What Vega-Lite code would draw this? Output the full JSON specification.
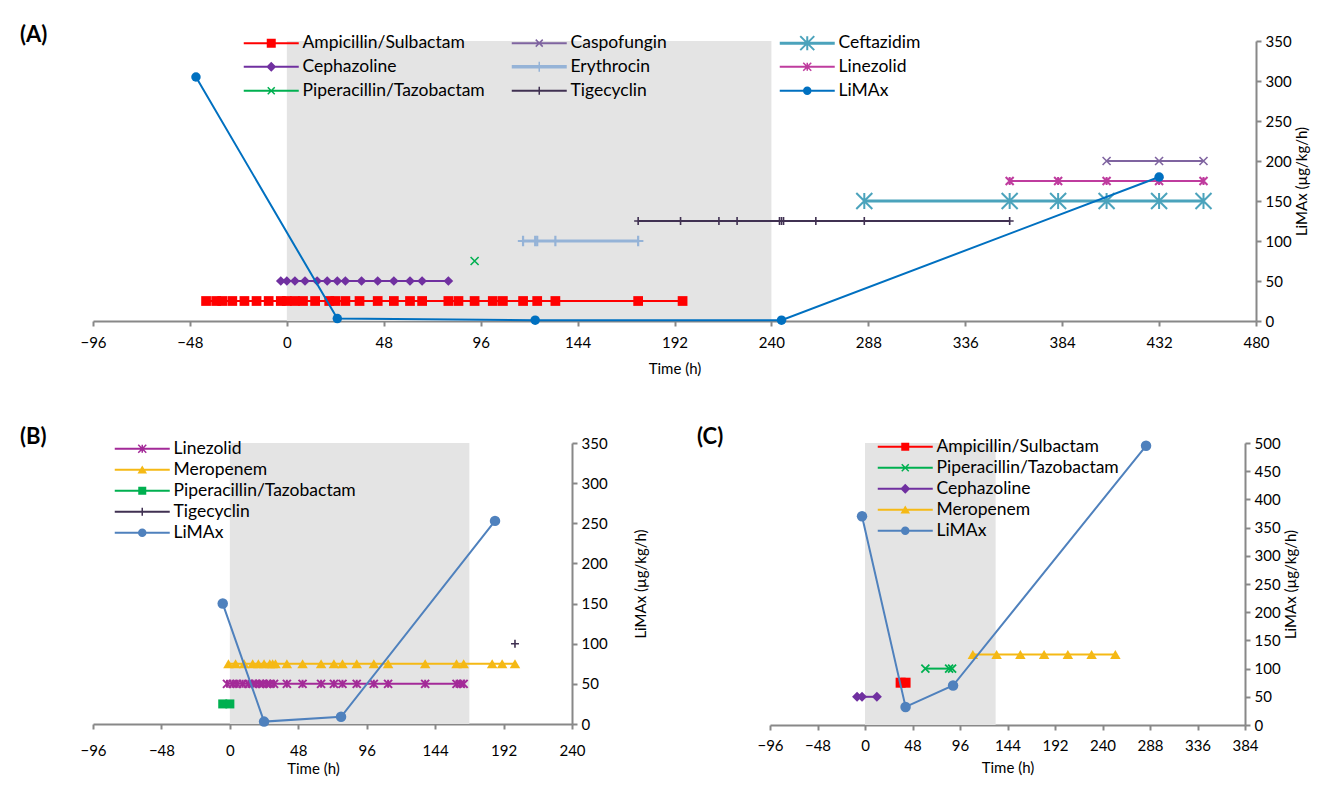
{
  "$schema": "https://vega.github.io/schema/vega-lite/v6.json",
  "padding": {"left": 20, "top": 24, "right": 5, "bottom": 5},
  "background": "white",
  "bounds": "flush",
  "spacing": 122,
  "resolve": {"scale": {"color": "independent", "shape": "independent"}, "legend": {"color": "independent", "shape": "independent"}},
  "config": {
    "font": "Lato",
    "view": {"stroke": null},
    "axis": {"grid": false, "domainColor": "#888888", "domainWidth": 2, "tickColor": "#888888", "tickWidth": 2, "tickSize": 5, "labelFont": "Lato", "labelFontSize": 15, "labelColor": "#000000", "titleFont": "Lato", "titleFontSize": 15, "titleFontWeight": "normal", "titleColor": "#000000", "labelFlush": false, "labelOverlap": false, "tickCount": 30},
    "axisX": {"labelPadding": 9, "titlePadding": 11},
    "axisY": {"labelPadding": 4, "titlePadding": 3, "titleAngle": 270, "titleBaseline": "top"},
    "legend": {"labelFont": "Lato", "labelFontSize": 17.5, "labelColor": "#000000", "symbolSize": 100, "labelOffset": 45, "symbolStrokeWidth": 0, "labelLimit": 400, "padding": 0},
    "title": {"anchor": "start", "frame": "group", "dx": -73, "dy": 17, "offset": 0, "baseline": "alphabetic", "fontSize": 22, "fontWeight": "bold", "font": "Lato", "color": "#000000"}
  },
  "datasets": {
    "A": [
      {"drug": "Ampicillin/Sulbactam", "t": -40, "v": 25},
      {"drug": "Ampicillin/Sulbactam", "t": -35, "v": 25},
      {"drug": "Ampicillin/Sulbactam", "t": -32, "v": 25},
      {"drug": "Ampicillin/Sulbactam", "t": -27, "v": 25},
      {"drug": "Ampicillin/Sulbactam", "t": -21, "v": 25},
      {"drug": "Ampicillin/Sulbactam", "t": -15, "v": 25},
      {"drug": "Ampicillin/Sulbactam", "t": -9, "v": 25},
      {"drug": "Ampicillin/Sulbactam", "t": -3, "v": 25},
      {"drug": "Ampicillin/Sulbactam", "t": 0, "v": 25},
      {"drug": "Ampicillin/Sulbactam", "t": 4, "v": 25},
      {"drug": "Ampicillin/Sulbactam", "t": 8, "v": 25},
      {"drug": "Ampicillin/Sulbactam", "t": 14, "v": 25},
      {"drug": "Ampicillin/Sulbactam", "t": 21, "v": 25},
      {"drug": "Ampicillin/Sulbactam", "t": 24, "v": 25},
      {"drug": "Ampicillin/Sulbactam", "t": 29, "v": 25},
      {"drug": "Ampicillin/Sulbactam", "t": 36, "v": 25},
      {"drug": "Ampicillin/Sulbactam", "t": 45, "v": 25},
      {"drug": "Ampicillin/Sulbactam", "t": 53, "v": 25},
      {"drug": "Ampicillin/Sulbactam", "t": 61, "v": 25},
      {"drug": "Ampicillin/Sulbactam", "t": 67, "v": 25},
      {"drug": "Ampicillin/Sulbactam", "t": 80, "v": 25},
      {"drug": "Ampicillin/Sulbactam", "t": 85, "v": 25},
      {"drug": "Ampicillin/Sulbactam", "t": 93, "v": 25},
      {"drug": "Ampicillin/Sulbactam", "t": 102, "v": 25},
      {"drug": "Ampicillin/Sulbactam", "t": 107, "v": 25},
      {"drug": "Ampicillin/Sulbactam", "t": 117, "v": 25},
      {"drug": "Ampicillin/Sulbactam", "t": 124, "v": 25},
      {"drug": "Ampicillin/Sulbactam", "t": 133, "v": 25},
      {"drug": "Ampicillin/Sulbactam", "t": 174, "v": 25},
      {"drug": "Ampicillin/Sulbactam", "t": 196, "v": 25},
      {"drug": "Cephazoline", "t": -3, "v": 50},
      {"drug": "Cephazoline", "t": 0, "v": 50},
      {"drug": "Cephazoline", "t": 4, "v": 50},
      {"drug": "Cephazoline", "t": 9, "v": 50},
      {"drug": "Cephazoline", "t": 15, "v": 50},
      {"drug": "Cephazoline", "t": 20, "v": 50},
      {"drug": "Cephazoline", "t": 25, "v": 50},
      {"drug": "Cephazoline", "t": 29, "v": 50},
      {"drug": "Cephazoline", "t": 37, "v": 50},
      {"drug": "Cephazoline", "t": 45, "v": 50},
      {"drug": "Cephazoline", "t": 53, "v": 50},
      {"drug": "Cephazoline", "t": 61, "v": 50},
      {"drug": "Cephazoline", "t": 67, "v": 50},
      {"drug": "Cephazoline", "t": 80, "v": 50},
      {"drug": "Piperacillin/Tazobactam", "t": 93, "v": 75},
      {"drug": "Erythrocin", "t": 117, "v": 100},
      {"drug": "Erythrocin", "t": 123, "v": 100},
      {"drug": "Erythrocin", "t": 124, "v": 100},
      {"drug": "Erythrocin", "t": 133, "v": 100},
      {"drug": "Erythrocin", "t": 174, "v": 100},
      {"drug": "Tigecyclin", "t": 174, "v": 125},
      {"drug": "Tigecyclin", "t": 195, "v": 125},
      {"drug": "Tigecyclin", "t": 214, "v": 125},
      {"drug": "Tigecyclin", "t": 223, "v": 125},
      {"drug": "Tigecyclin", "t": 244, "v": 125},
      {"drug": "Tigecyclin", "t": 245, "v": 125},
      {"drug": "Tigecyclin", "t": 246, "v": 125},
      {"drug": "Tigecyclin", "t": 262, "v": 125},
      {"drug": "Tigecyclin", "t": 286, "v": 125},
      {"drug": "Tigecyclin", "t": 358, "v": 125},
      {"drug": "Ceftazidim", "t": 286, "v": 150},
      {"drug": "Ceftazidim", "t": 358, "v": 150},
      {"drug": "Ceftazidim", "t": 382, "v": 150},
      {"drug": "Ceftazidim", "t": 406, "v": 150},
      {"drug": "Ceftazidim", "t": 432, "v": 150},
      {"drug": "Ceftazidim", "t": 454, "v": 150},
      {"drug": "Linezolid", "t": 358, "v": 175},
      {"drug": "Linezolid", "t": 382, "v": 175},
      {"drug": "Linezolid", "t": 406, "v": 175},
      {"drug": "Linezolid", "t": 432, "v": 175},
      {"drug": "Linezolid", "t": 454, "v": 175},
      {"drug": "Caspofungin", "t": 406, "v": 200},
      {"drug": "Caspofungin", "t": 432, "v": 200},
      {"drug": "Caspofungin", "t": 454, "v": 200},
      {"drug": "LiMAx", "t": -45, "v": 305},
      {"drug": "LiMAx", "t": 25, "v": 3},
      {"drug": "LiMAx", "t": 123, "v": 1},
      {"drug": "LiMAx", "t": 245, "v": 1},
      {"drug": "LiMAx", "t": 432, "v": 180}
    ],
    "B": [
      {"drug": "Linezolid", "t": -2, "v": 50},
      {"drug": "Linezolid", "t": 2, "v": 50},
      {"drug": "Linezolid", "t": 5, "v": 50},
      {"drug": "Linezolid", "t": 9, "v": 50},
      {"drug": "Linezolid", "t": 13, "v": 50},
      {"drug": "Linezolid", "t": 16, "v": 50},
      {"drug": "Linezolid", "t": 18, "v": 50},
      {"drug": "Linezolid", "t": 21, "v": 50},
      {"drug": "Linezolid", "t": 23, "v": 50},
      {"drug": "Linezolid", "t": 26, "v": 50},
      {"drug": "Linezolid", "t": 28, "v": 50},
      {"drug": "Linezolid", "t": 31, "v": 50},
      {"drug": "Linezolid", "t": 40, "v": 50},
      {"drug": "Linezolid", "t": 51, "v": 50},
      {"drug": "Linezolid", "t": 64, "v": 50},
      {"drug": "Linezolid", "t": 73, "v": 50},
      {"drug": "Linezolid", "t": 79, "v": 50},
      {"drug": "Linezolid", "t": 89, "v": 50},
      {"drug": "Linezolid", "t": 101, "v": 50},
      {"drug": "Linezolid", "t": 111, "v": 50},
      {"drug": "Linezolid", "t": 137, "v": 50},
      {"drug": "Linezolid", "t": 159, "v": 50},
      {"drug": "Linezolid", "t": 162, "v": 50},
      {"drug": "Linezolid", "t": 164, "v": 50},
      {"drug": "Meropenem", "t": -1, "v": 75},
      {"drug": "Meropenem", "t": 4, "v": 75},
      {"drug": "Meropenem", "t": 10, "v": 75},
      {"drug": "Meropenem", "t": 16, "v": 75},
      {"drug": "Meropenem", "t": 20, "v": 75},
      {"drug": "Meropenem", "t": 24, "v": 75},
      {"drug": "Meropenem", "t": 28, "v": 75},
      {"drug": "Meropenem", "t": 30, "v": 75},
      {"drug": "Meropenem", "t": 32, "v": 75},
      {"drug": "Meropenem", "t": 40, "v": 75},
      {"drug": "Meropenem", "t": 51, "v": 75},
      {"drug": "Meropenem", "t": 64, "v": 75},
      {"drug": "Meropenem", "t": 73, "v": 75},
      {"drug": "Meropenem", "t": 79, "v": 75},
      {"drug": "Meropenem", "t": 89, "v": 75},
      {"drug": "Meropenem", "t": 101, "v": 75},
      {"drug": "Meropenem", "t": 111, "v": 75},
      {"drug": "Meropenem", "t": 137, "v": 75},
      {"drug": "Meropenem", "t": 159, "v": 75},
      {"drug": "Meropenem", "t": 164, "v": 75},
      {"drug": "Meropenem", "t": 184, "v": 75},
      {"drug": "Meropenem", "t": 191, "v": 75},
      {"drug": "Meropenem", "t": 200, "v": 75},
      {"drug": "Piperacillin/Tazobactam", "t": -5, "v": 25},
      {"drug": "Piperacillin/Tazobactam", "t": 0, "v": 25},
      {"drug": "Tigecyclin", "t": 200, "v": 100},
      {"drug": "LiMAx", "t": -5, "v": 150},
      {"drug": "LiMAx", "t": 24, "v": 3},
      {"drug": "LiMAx", "t": 78, "v": 9},
      {"drug": "LiMAx", "t": 186, "v": 253}
    ],
    "C": [
      {"drug": "Cephazoline", "t": -8, "v": 50},
      {"drug": "Cephazoline", "t": -3, "v": 50},
      {"drug": "Cephazoline", "t": 12, "v": 50},
      {"drug": "Ampicillin/Sulbactam", "t": 36, "v": 75},
      {"drug": "Ampicillin/Sulbactam", "t": 41, "v": 75},
      {"drug": "Piperacillin/Tazobactam", "t": 61, "v": 100},
      {"drug": "Piperacillin/Tazobactam", "t": 85, "v": 100},
      {"drug": "Piperacillin/Tazobactam", "t": 88, "v": 100},
      {"drug": "Meropenem", "t": 109, "v": 125},
      {"drug": "Meropenem", "t": 133, "v": 125},
      {"drug": "Meropenem", "t": 157, "v": 125},
      {"drug": "Meropenem", "t": 181, "v": 125},
      {"drug": "Meropenem", "t": 205, "v": 125},
      {"drug": "Meropenem", "t": 229, "v": 125},
      {"drug": "Meropenem", "t": 253, "v": 125},
      {"drug": "LiMAx", "t": -3, "v": 370},
      {"drug": "LiMAx", "t": 41, "v": 32},
      {"drug": "LiMAx", "t": 89, "v": 70},
      {"drug": "LiMAx", "t": 284, "v": 495}
    ],
    "shadeA": [{"t": 0, "t2": 240}],
    "shadeB": [{"t": 0, "t2": 168}],
    "shadeC": [{"t": 0, "t2": 132}]
  },
  "vconcat": [
    {
      "width": 1163,
      "height": 280,
      "title": {"text": "(A)"},
      "data": {"name": "A"},
      "encoding": {
        "x": {"field": "t", "type": "quantitative", "scale": {"domain": [-96, 480], "nice": false, "zero": false}, "axis": {"values": [-96, -48, 0, 48, 96, 144, 192, 240, 288, 336, 384, 432, 480], "title": "Time (h)", "labelOverlap": false, "tickCount": 30}},
        "color": {"field": "drug", "type": "nominal", "scale": {"domain": ["Ampicillin/Sulbactam", "Cephazoline", "Piperacillin/Tazobactam", "Caspofungin", "Erythrocin", "Tigecyclin", "Ceftazidim", "Linezolid", "LiMAx"], "range": ["#FF0000", "#7030A0", "#00B050", "#7F64A0", "#95B3D7", "#403152", "#4BA3BC", "#BF3C9E", "#0070C0"]}, "legend": null}
      },
      "layer": [
        {
          "transform": [{"filter": "false"}],
          "mark": {"type": "point", "filled": true, "opacity": 1, "size": 100},
          "encoding": {
            "y": {"field": "v", "type": "quantitative", "scale": {"domain": [0, 350], "nice": false}, "axis": {"orient": "right", "values": [0, 50, 100, 150, 200, 250, 300, 350], "tickCount": 20, "title": "LiMAx (µg/kg/h)", "titlePadding": 3, "labelOverlap": false}},
            "color": {"field": "drug", "type": "nominal", "scale": {"domain": ["Ampicillin/Sulbactam", "Cephazoline", "Piperacillin/Tazobactam", "Caspofungin", "Erythrocin", "Tigecyclin", "Ceftazidim", "Linezolid", "LiMAx"], "range": ["#FF0000", "#7030A0", "#00B050", "#7F64A0", "#95B3D7", "#403152", "#4BA3BC", "#BF3C9E", "#0070C0"]}, "legend": {"title": null, "orient": "none", "legendX": 147, "legendY": -7, "direction": "vertical", "columns": 3, "columnPadding": 23, "rowPadding": 5, "gridAlign": "all"}},
            "shape": {"field": "drug", "type": "nominal", "scale": {"domain": ["Ampicillin/Sulbactam", "Cephazoline", "Piperacillin/Tazobactam", "Caspofungin", "Erythrocin", "Tigecyclin", "Ceftazidim", "Linezolid", "LiMAx"], "range": [
              "M-1,-0.2H10V0.2H-1ZM3.6,-0.9H5.4V0.9H3.6Z",
              "M-1,-0.2H10V0.2H-1ZM4.5,-1L5.5,0L4.5,1L3.5,0Z",
              "M-1,-0.2H10V0.2H-1ZM3.906,-0.806L5.306,0.594L5.094,0.806L3.694,-0.594ZM3.694,0.594L5.094,-0.806L5.306,-0.594L3.906,0.806Z",
              "M-1,-0.2H10V0.2H-1ZM3.906,-0.806L5.306,0.594L5.094,0.806L3.694,-0.594ZM3.694,0.594L5.094,-0.806L5.306,-0.594L3.906,0.806Z",
              "M-1,-0.35H10V0.35H-1ZM4.35,-1H4.65V1H4.35Z",
              "M-1,-0.2H10V0.2H-1ZM4.35,-0.8H4.65V0.8H4.35Z",
              "M-1,-0.3H10V0.3H-1ZM3.241,-1.541L6.041,1.259L5.759,1.541L2.959,-1.259ZM2.959,1.259L5.759,-1.541L6.041,-1.259L3.241,1.541ZM4.3,-1.4H4.7V1.4H4.3Z",
              "M-1,-0.2H10V0.2H-1ZM3.806,-0.906L5.406,0.694L5.194,0.906L3.594,-0.694ZM3.594,0.694L5.194,-0.906L5.406,-0.694L3.806,0.906ZM4.35,-0.8H4.65V0.8H4.35Z",
              "M-1,-0.2H10V0.2H-1ZM3.65,0A0.85,0.85 0 1 1 5.35,0A0.85,0.85 0 1 1 3.65,0Z"
            ]}, "legend": {"title": null, "orient": "none", "legendX": 147, "legendY": -7, "direction": "vertical", "columns": 3, "columnPadding": 23, "rowPadding": 5, "gridAlign": "all"}}
          }
        },
        {
          "data": {"name": "shadeA"},
          "mark": {"type": "rect"},
          "encoding": {"x2": {"field": "t2"}, "color": {"value": "#E4E4E4"}}
        },
        {
          "transform": [{"filter": {"field": "drug", "oneOf": ["Ampicillin/Sulbactam", "Caspofungin", "Cephazoline", "Linezolid", "Piperacillin/Tazobactam", "Tigecyclin"]}}],
          "mark": {"type": "line", "strokeWidth": 1.8},
          "encoding": {"y": {"field": "v", "type": "quantitative"}}
        },
        {
          "transform": [{"filter": {"field": "drug", "oneOf": ["Ceftazidim", "Erythrocin"]}}],
          "mark": {"type": "line", "strokeWidth": 3.2},
          "encoding": {"y": {"field": "v", "type": "quantitative"}}
        },
        {
          "transform": [{"filter": {"field": "drug", "equal": "Ampicillin/Sulbactam"}}],
          "mark": {"type": "point", "shape": "square", "filled": true, "opacity": 1, "size": 95},
          "encoding": {"y": {"field": "v", "type": "quantitative"}}
        },
        {
          "transform": [{"filter": {"field": "drug", "equal": "Cephazoline"}}],
          "mark": {"type": "point", "shape": "diamond", "filled": true, "opacity": 1, "size": 95},
          "encoding": {"y": {"field": "v", "type": "quantitative"}}
        },
        {
          "transform": [{"filter": {"field": "drug", "oneOf": ["Piperacillin/Tazobactam", "Caspofungin"]}}],
          "mark": {"type": "point", "shape": "M-1,-1L1,1M-1,1L1,-1", "filled": false, "opacity": 1, "size": 64, "strokeWidth": 1.6},
          "encoding": {"y": {"field": "v", "type": "quantitative"}}
        },
        {
          "transform": [{"filter": {"field": "drug", "equal": "Tigecyclin"}}],
          "mark": {"type": "point", "shape": "M-1,0H1M0,-1V1", "filled": false, "opacity": 1, "size": 64, "strokeWidth": 1.6},
          "encoding": {"y": {"field": "v", "type": "quantitative"}}
        },
        {
          "transform": [{"filter": {"field": "drug", "equal": "Erythrocin"}}],
          "mark": {"type": "point", "shape": "M-1,0H1M0,-1V1", "filled": false, "opacity": 1, "size": 110, "strokeWidth": 2.2},
          "encoding": {"y": {"field": "v", "type": "quantitative"}}
        },
        {
          "transform": [{"filter": {"field": "drug", "equal": "Linezolid"}}],
          "mark": {"type": "point", "shape": "M-1,-1L1,1M-1,1L1,-1M0,-1V1", "filled": false, "opacity": 1, "size": 64, "strokeWidth": 2},
          "encoding": {"y": {"field": "v", "type": "quantitative"}}
        },
        {
          "transform": [{"filter": {"field": "drug", "equal": "Ceftazidim"}}],
          "mark": {"type": "point", "shape": "M-1,-1L1,1M-1,1L1,-1M0,-1V1", "filled": false, "opacity": 1, "size": 256, "strokeWidth": 2},
          "encoding": {"y": {"field": "v", "type": "quantitative"}}
        },
        {
          "transform": [{"filter": {"field": "drug", "equal": "LiMAx"}}],
          "mark": {"type": "line", "strokeWidth": 2},
          "encoding": {"y": {"field": "v", "type": "quantitative"}}
        },
        {
          "transform": [{"filter": {"field": "drug", "equal": "LiMAx"}}],
          "mark": {"type": "point", "shape": "circle", "filled": true, "opacity": 1, "size": 90},
          "encoding": {"y": {"field": "v", "type": "quantitative"}}
        }
      ]
    },
    {
      "hconcat": [
        {
          "width": 479,
          "height": 281,
          "title": {"text": "(B)"},
          "data": {"name": "B"},
          "encoding": {
            "x": {"field": "t", "type": "quantitative", "scale": {"domain": [-96, 240], "nice": false, "zero": false}, "axis": {"values": [-96, -48, 0, 48, 96, 144, 192, 240], "tickCount": 30, "title": "Time (h)", "titleX": 220, "labelPadding": 14, "titlePadding": 3, "labelOverlap": false}},
            "color": {"field": "drug", "type": "nominal", "scale": {"domain": ["Linezolid", "Meropenem", "Piperacillin/Tazobactam", "Tigecyclin", "LiMAx"], "range": ["#A32A98", "#F5B915", "#00B050", "#403152", "#4F81BD"]}, "legend": null}
          },
          "layer": [
            {
              "transform": [{"filter": "false"}],
              "mark": {"type": "point", "filled": true, "opacity": 1, "size": 100},
              "encoding": {
                "y": {"field": "v", "type": "quantitative", "scale": {"domain": [0, 350], "nice": false}, "axis": {"orient": "right", "values": [0, 50, 100, 150, 200, 250, 300, 350], "tickCount": 20, "title": "LiMAx (µg/kg/h)", "titlePadding": 26, "labelOverlap": false}},
                "color": {"field": "drug", "type": "nominal", "scale": {"domain": ["Linezolid", "Meropenem", "Piperacillin/Tazobactam", "Tigecyclin", "LiMAx"], "range": ["#A32A98", "#F5B915", "#00B050", "#403152", "#4F81BD"]}, "legend": {"title": null, "orient": "none", "legendX": 18, "legendY": -3, "direction": "vertical", "columns": 1, "rowPadding": 2}},
                "shape": {"field": "drug", "type": "nominal", "scale": {"domain": ["Linezolid", "Meropenem", "Piperacillin/Tazobactam", "Tigecyclin", "LiMAx"], "range": [
                  "M-1,-0.2H10V0.2H-1ZM3.806,-0.906L5.406,0.694L5.194,0.906L3.594,-0.694ZM3.594,0.694L5.194,-0.906L5.406,-0.694L3.806,0.906ZM4.35,-0.8H4.65V0.8H4.35Z",
                  "M-1,-0.2H10V0.2H-1ZM4.5,-0.85L5.45,0.75L3.55,0.75Z",
                  "M-1,-0.2H10V0.2H-1ZM3.7,-0.8H5.3V0.8H3.7Z",
                  "M-1,-0.2H10V0.2H-1ZM4.35,-0.8H4.65V0.8H4.35Z",
                  "M-1,-0.2H10V0.2H-1ZM3.65,0A0.85,0.85 0 1 1 5.35,0A0.85,0.85 0 1 1 3.65,0Z"
                ]}, "legend": {"title": null, "orient": "none", "legendX": 18, "legendY": -3, "direction": "vertical", "columns": 1, "rowPadding": 2}}
              }
            },
            {
              "data": {"name": "shadeB"},
              "mark": {"type": "rect"},
              "encoding": {"x2": {"field": "t2"}, "color": {"value": "#E4E4E4"}}
            },
            {
              "transform": [{"filter": {"field": "drug", "oneOf": ["Linezolid", "Meropenem", "Piperacillin/Tazobactam", "Tigecyclin"]}}],
              "mark": {"type": "line", "strokeWidth": 2},
              "encoding": {"y": {"field": "v", "type": "quantitative"}}
            },
            {
              "transform": [{"filter": {"field": "drug", "equal": "Linezolid"}}],
              "mark": {"type": "point", "shape": "M-1,-1L1,1M-1,1L1,-1M0,-1V1", "filled": false, "opacity": 1, "size": 64, "strokeWidth": 2},
              "encoding": {"y": {"field": "v", "type": "quantitative"}}
            },
            {
              "transform": [{"filter": {"field": "drug", "equal": "Meropenem"}}],
              "mark": {"type": "point", "shape": "triangle-up", "filled": true, "opacity": 1, "size": 110},
              "encoding": {"y": {"field": "v", "type": "quantitative"}}
            },
            {
              "transform": [{"filter": {"field": "drug", "equal": "Piperacillin/Tazobactam"}}],
              "mark": {"type": "point", "shape": "square", "filled": true, "opacity": 1, "size": 81},
              "encoding": {"y": {"field": "v", "type": "quantitative"}}
            },
            {
              "transform": [{"filter": {"field": "drug", "equal": "Tigecyclin"}}],
              "mark": {"type": "point", "shape": "M-1,0H1M0,-1V1", "filled": false, "opacity": 1, "size": 64, "strokeWidth": 1.6},
              "encoding": {"y": {"field": "v", "type": "quantitative"}}
            },
            {
              "transform": [{"filter": {"field": "drug", "equal": "LiMAx"}}],
              "mark": {"type": "line", "strokeWidth": 2},
              "encoding": {"y": {"field": "v", "type": "quantitative"}}
            },
            {
              "transform": [{"filter": {"field": "drug", "equal": "LiMAx"}}],
              "mark": {"type": "point", "shape": "circle", "filled": true, "opacity": 1, "size": 110},
              "encoding": {"y": {"field": "v", "type": "quantitative"}}
            }
          ]
        },
        {
          "width": 475,
          "height": 282,
          "title": {"text": "(C)"},
          "data": {"name": "C"},
          "encoding": {
            "x": {"field": "t", "type": "quantitative", "scale": {"domain": [-96, 384], "nice": false, "zero": false}, "axis": {"values": [-96, -48, 0, 48, 96, 144, 192, 240, 288, 336, 384], "tickCount": 30, "title": "Time (h)", "labelPadding": 8, "titlePadding": 7, "labelOverlap": false}},
            "color": {"field": "drug", "type": "nominal", "scale": {"domain": ["Ampicillin/Sulbactam", "Piperacillin/Tazobactam", "Cephazoline", "Meropenem", "LiMAx"], "range": ["#FF0000", "#00B050", "#7030A0", "#F5B915", "#4F81BD"]}, "legend": null}
          },
          "layer": [
            {
              "transform": [{"filter": "false"}],
              "mark": {"type": "point", "filled": true, "opacity": 1, "size": 100},
              "encoding": {
                "y": {"field": "v", "type": "quantitative", "scale": {"domain": [0, 500], "nice": false}, "axis": {"orient": "right", "values": [0, 50, 100, 150, 200, 250, 300, 350, 400, 450, 500], "tickCount": 20, "title": "LiMAx (µg/kg/h)", "titlePadding": 3, "labelOverlap": false}},
                "color": {"field": "drug", "type": "nominal", "scale": {"domain": ["Ampicillin/Sulbactam", "Piperacillin/Tazobactam", "Cephazoline", "Meropenem", "LiMAx"], "range": ["#FF0000", "#00B050", "#7030A0", "#F5B915", "#4F81BD"]}, "legend": {"title": null, "orient": "none", "legendX": 104, "legendY": -5, "direction": "vertical", "columns": 1, "rowPadding": 2}},
                "shape": {"field": "drug", "type": "nominal", "scale": {"domain": ["Ampicillin/Sulbactam", "Piperacillin/Tazobactam", "Cephazoline", "Meropenem", "LiMAx"], "range": [
                  "M-1,-0.2H10V0.2H-1ZM3.7,-0.8H5.3V0.8H3.7Z",
                  "M-1,-0.2H10V0.2H-1ZM3.906,-0.806L5.306,0.594L5.094,0.806L3.694,-0.594ZM3.694,0.594L5.094,-0.806L5.306,-0.594L3.906,0.806Z",
                  "M-1,-0.2H10V0.2H-1ZM4.5,-1L5.5,0L4.5,1L3.5,0Z",
                  "M-1,-0.2H10V0.2H-1ZM4.5,-0.85L5.45,0.75L3.55,0.75Z",
                  "M-1,-0.2H10V0.2H-1ZM3.65,0A0.85,0.85 0 1 1 5.35,0A0.85,0.85 0 1 1 3.65,0Z"
                ]}, "legend": {"title": null, "orient": "none", "legendX": 104, "legendY": -5, "direction": "vertical", "columns": 1, "rowPadding": 2}}
              }
            },
            {
              "data": {"name": "shadeC"},
              "mark": {"type": "rect"},
              "encoding": {"x2": {"field": "t2"}, "color": {"value": "#E4E4E4"}}
            },
            {
              "transform": [{"filter": {"field": "drug", "oneOf": ["Ampicillin/Sulbactam", "Piperacillin/Tazobactam", "Cephazoline", "Meropenem"]}}],
              "mark": {"type": "line", "strokeWidth": 2},
              "encoding": {"y": {"field": "v", "type": "quantitative"}}
            },
            {
              "transform": [{"filter": {"field": "drug", "equal": "Ampicillin/Sulbactam"}}],
              "mark": {"type": "point", "shape": "square", "filled": true, "opacity": 1, "size": 100},
              "encoding": {"y": {"field": "v", "type": "quantitative"}}
            },
            {
              "transform": [{"filter": {"field": "drug", "equal": "Piperacillin/Tazobactam"}}],
              "mark": {"type": "point", "shape": "M-1,-1L1,1M-1,1L1,-1", "filled": false, "opacity": 1, "size": 64, "strokeWidth": 1.8},
              "encoding": {"y": {"field": "v", "type": "quantitative"}}
            },
            {
              "transform": [{"filter": {"field": "drug", "equal": "Cephazoline"}}],
              "mark": {"type": "point", "shape": "diamond", "filled": true, "opacity": 1, "size": 100},
              "encoding": {"y": {"field": "v", "type": "quantitative"}}
            },
            {
              "transform": [{"filter": {"field": "drug", "equal": "Meropenem"}}],
              "mark": {"type": "point", "shape": "triangle-up", "filled": true, "opacity": 1, "size": 110},
              "encoding": {"y": {"field": "v", "type": "quantitative"}}
            },
            {
              "transform": [{"filter": {"field": "drug", "equal": "LiMAx"}}],
              "mark": {"type": "line", "strokeWidth": 2},
              "encoding": {"y": {"field": "v", "type": "quantitative"}}
            },
            {
              "transform": [{"filter": {"field": "drug", "equal": "LiMAx"}}],
              "mark": {"type": "point", "shape": "circle", "filled": true, "opacity": 1, "size": 110},
              "encoding": {"y": {"field": "v", "type": "quantitative"}}
            }
          ]
        }
      ],
      "spacing": 198,
      "bounds": "flush",
      "resolve": {"scale": {"color": "independent", "shape": "independent"}, "legend": {"color": "independent", "shape": "independent"}}
    }
  ]
}
